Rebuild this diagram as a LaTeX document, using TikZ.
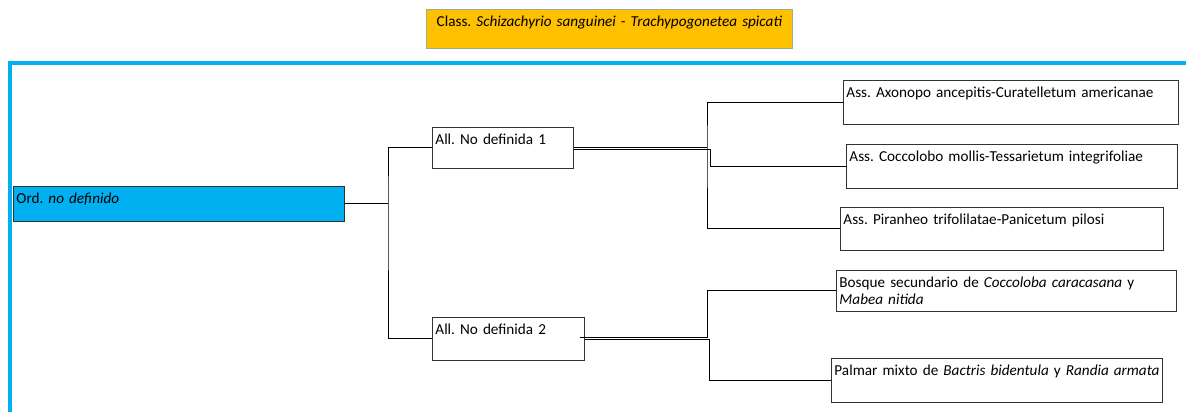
\documentclass[tikz,border=0pt]{standalone}
\usepackage{fontspec}
\setmainfont[WordSpace=0.35]{Carlito}
\usetikzlibrary{calc}
\definecolor{xblue}{RGB}{0,176,240}
\definecolor{xyellow}{RGB}{255,192,0}
\definecolor{xgreen}{RGB}{150,175,140}
\begin{document}
\frenchspacing
\begin{tikzpicture}[x=1pt,y=-1pt,
  cbox/.style={draw=black!80, line width=0.9pt, anchor=north west, align=left,
    inner xsep=3pt, inner ysep=2pt, text height=15pt,
    font=\frenchspacing\fontsize{15.2}{17.5}\selectfont},
  link/.style={draw=black, line width=1pt}]
\useasboundingbox (0,0) rectangle (1186,412);
% blue frame
\draw[xblue, line width=4pt] (10,412) -- (10,63) -- (1186,63);
% header
\node[cbox, draw=xgreen, fill=xyellow, align=center, text width=360pt, text depth=20pt] (cls) at (426,9)
  {Class. \textit{Schizachyrio sanguinei - Trachypogonetea spicati}};
% order
\node[cbox, fill=xblue, text width=325pt, text depth=16pt] (ord) at (13,186) {Ord. \textit{no definido}};
% alliances
\node[cbox, text width=135pt, text depth=22pt] (all1) at (432,127) {All. No definida 1};
\node[cbox, text width=146pt, text depth=24pt] (all2) at (432,317) {All. No definida 2};
% associations
\node[cbox, text width=329pt, text depth=25pt] (ass1) at (843,80) {Ass. Axonopo ancepitis-Curatelletum americanae};
\node[cbox, text width=325pt, text depth=25pt] (ass2) at (846,144) {Ass. Coccolobo mollis-Tessarietum integrifoliae};
\node[cbox, text width=317pt, text depth=24pt] (ass3) at (840,207) {Ass. Piranheo trifolilatae-Panicetum pilosi};
\node[cbox, text width=334pt, text depth=22pt] (bos) at (836,270) {Bosque secundario de \textit{Coccoloba caracasana} y\\\textit{Mabea nitida}};
\node[cbox, text width=325pt, text depth=25pt] (pal) at (831,358) {\mbox{Palmar mixto de \textit{Bactris bidentula} y \textit{Randia armata}}};
% connectors
\coordinate (vx1) at (388,0);
\coordinate (vx2) at (707,0);
\coordinate (vx3) at (710,0);
\coordinate (vx4) at (709,0);
\draw[link] (ord.east) -- (ord.east -| vx1);
\draw[link] (all1.west) -| (vx1 |- ord.east) |- (all2.west);
\draw[link] (all1.east) -- (all1.east -| vx2);
\draw[link] (ass1.west) -| (vx2 |- all1.east) |- (ass3.west);
\coordinate (a1b) at ($(all1.east)+(0,1.5)$);
\draw[link] (a1b) -| (vx3 |- ass2.west) -- (ass2.west);
\coordinate (a2t) at ($(all2.east)+(-5,-1.2)$);
\coordinate (a2b) at ($(all2.east)+(0,1)$);
\draw[link] (a2t) -| (vx2 |- bos.west) -- (bos.west);
\draw[link] (a2b) -| (vx4 |- pal.west) -- (pal.west);
\end{tikzpicture}
\end{document}
